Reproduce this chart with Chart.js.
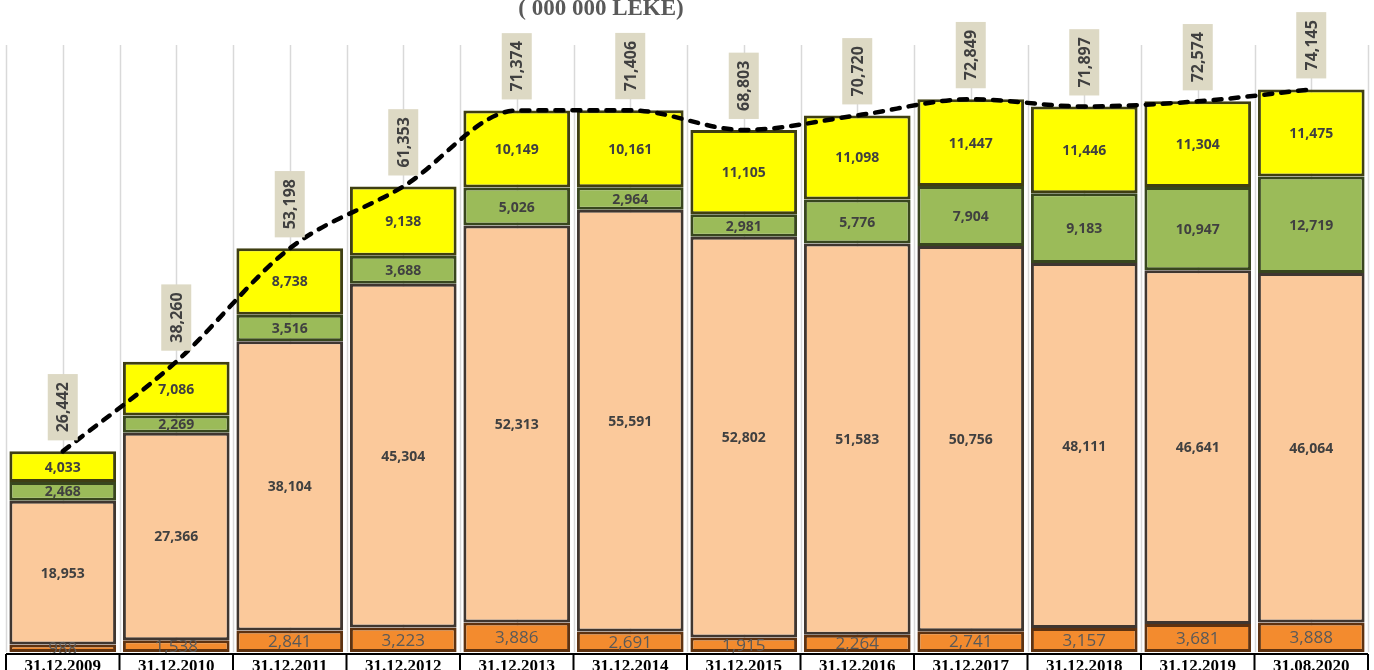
<!DOCTYPE html>
<html>
<head>
<meta charset="utf-8">
<script src="https://cdn.jsdelivr.net/npm/chart.js@4"></script>
<style>
html,body{margin:0;padding:0;background:#fff;}
#wrap{width:1374px;height:670px;position:relative;overflow:hidden;}
</style>
</head>
<body>
<div id="wrap"><canvas id="c"></canvas></div>
<script>
const categories = ['31.12.2009','31.12.2010','31.12.2011','31.12.2012','31.12.2013','31.12.2014','31.12.2015','31.12.2016','31.12.2017','31.12.2018','31.12.2019','31.08.2020'];
const seriesOrange = [988, 1538, 2841, 3223, 3886, 2691, 1915, 2264, 2741, 3157, 3681, 3888];
const seriesPeach  = [18953, 27366, 38104, 45304, 52313, 55591, 52802, 51583, 50756, 48111, 46641, 46064];
const seriesGreen  = [2468, 2269, 3516, 3688, 5026, 2964, 2981, 5776, 7904, 9183, 10947, 12719];
const seriesYellow = [4033, 7086, 8738, 9138, 10149, 10161, 11105, 11098, 11447, 11446, 11304, 11475];
const totals       = [26442, 38260, 53198, 61353, 71374, 71406, 68803, 70720, 72849, 71897, 72574, 74145];
const titleText = '( 000 000 LEKE)';

const fmt = v => v.toLocaleString('en-US');

const decor = {
  id: 'decor',
  beforeDatasetsDraw(chart) {
    const {ctx, chartArea} = chart;
    const n = categories.length;
    const step = (chartArea.right - chartArea.left) / n;
    ctx.save();
    ctx.strokeStyle = '#d9d9d9';
    ctx.lineWidth = 1.5;
    for (let k = 0; k <= 2 * n; k++) {
      const gx = Math.round(chartArea.left + k * step / 2) + 0.5;
      ctx.beginPath();
      ctx.moveTo(gx, chartArea.top);
      ctx.lineTo(gx, chartArea.bottom);
      ctx.stroke();
    }
    ctx.restore();
  },
  afterDatasetsDraw(chart) {
    const {ctx} = chart;
    ctx.save();
    [0,1,2,3].forEach(di => {
      const meta = chart.getDatasetMeta(di);
      const data = chart.data.datasets[di].data;
      meta.data.forEach((el, j) => {
        const cy = (el.y + el.base) / 2;
        if (di === 0) {
          ctx.font = '17px "Open Sans"';
          ctx.fillStyle = '#595959';
        } else {
          ctx.font = 'bold 14px "Open Sans"';
          ctx.fillStyle = '#404040';
        }
        ctx.textAlign = 'center';
        ctx.textBaseline = 'middle';
        ctx.fillText(fmt(data[j]), el.x, cy + 1);
      });
    });
    const lm = chart.getDatasetMeta(4);
    lm.data.forEach((pt, j) => {
      const txt = fmt(totals[j]);
      ctx.font = 'bold 16px "Open Sans"';
      const w = ctx.measureText(txt).width;
      const bh = w + 16, bw = 30;
      const bottom = pt.y - 11;
      const cx = pt.x, cy = bottom - bh / 2;
      ctx.fillStyle = '#ddd9c4';
      ctx.fillRect(cx - bw / 2, bottom - bh, bw, bh);
      ctx.save();
      ctx.translate(cx, cy);
      ctx.rotate(-Math.PI / 2);
      ctx.fillStyle = '#404040';
      ctx.textAlign = 'center';
      ctx.textBaseline = 'middle';
      ctx.fillText(txt, 0, 1);
      ctx.restore();
    });
    ctx.restore();
  },
  afterDraw(chart) {
    const {ctx, chartArea} = chart;
    const n = categories.length;
    const step = (chartArea.right - chartArea.left) / n;
    ctx.save();
    ctx.strokeStyle = '#000';
    ctx.lineWidth = 2;
    ctx.beginPath();
    ctx.moveTo(chartArea.left, chartArea.bottom + 2);
    ctx.lineTo(chartArea.right, chartArea.bottom + 2);
    for (let k = 0; k <= n; k++) {
      const gx = chartArea.left + k * step;
      ctx.moveTo(gx, chartArea.bottom + 2);
      ctx.lineTo(gx, 672);
    }
    ctx.stroke();
    ctx.fillStyle = '#000';
    ctx.font = 'bold 17px "Liberation Serif"';
    ctx.textAlign = 'center';
    ctx.textBaseline = 'alphabetic';
    categories.forEach((c, j) => {
      ctx.fillText(c, chartArea.left + (j + 0.5) * step, 671);
    });
    ctx.fillStyle = '#595959';
    ctx.font = 'bold 23px "Liberation Serif"';
    ctx.fillText(titleText, 601, 15);
    ctx.restore();
  }
};

const barCommon = {
  type: 'bar',
  stack: 'bars',
  borderWidth: 3,
  borderSkipped: false,
  barPercentage: 0.94,
  categoryPercentage: 1.0,
  order: 2
};

new Chart(document.getElementById('c'), {
  data: {
    labels: categories,
    datasets: [
      Object.assign({}, barCommon, {label: 'A', data: seriesOrange, backgroundColor: '#f38b2e', borderColor: '#5e3210'}),
      Object.assign({}, barCommon, {label: 'B', data: seriesPeach, backgroundColor: '#fbc99b', borderColor: '#3f3630'}),
      Object.assign({}, barCommon, {label: 'C', data: seriesGreen, backgroundColor: '#9bbb59', borderColor: '#38461e'}),
      Object.assign({}, barCommon, {label: 'D', data: seriesYellow, backgroundColor: '#ffff00', borderColor: '#3f3f12'}),
      {
        type: 'line', label: 'Total', data: totals, stack: 'line', order: 0,
        borderColor: '#000', borderWidth: 4.5, borderDash: [8, 9], borderCapStyle: 'round',
        pointRadius: 0, fill: false, cubicInterpolationMode: 'monotone'
      }
    ]
  },
  options: {
    responsive: true,
    maintainAspectRatio: false,
    animation: false,
    layout: {padding: {left: 6, right: 6, top: 45, bottom: 18}},
    plugins: {legend: {display: false}, tooltip: {enabled: false}, title: {display: false}},
    scales: {
      x: {display: false, stacked: true, offset: true, grid: {display: false}},
      y: {display: false, stacked: true, min: 0, max: 80000}
    }
  },
  plugins: [decor]
});
</script>
</body>
</html>
